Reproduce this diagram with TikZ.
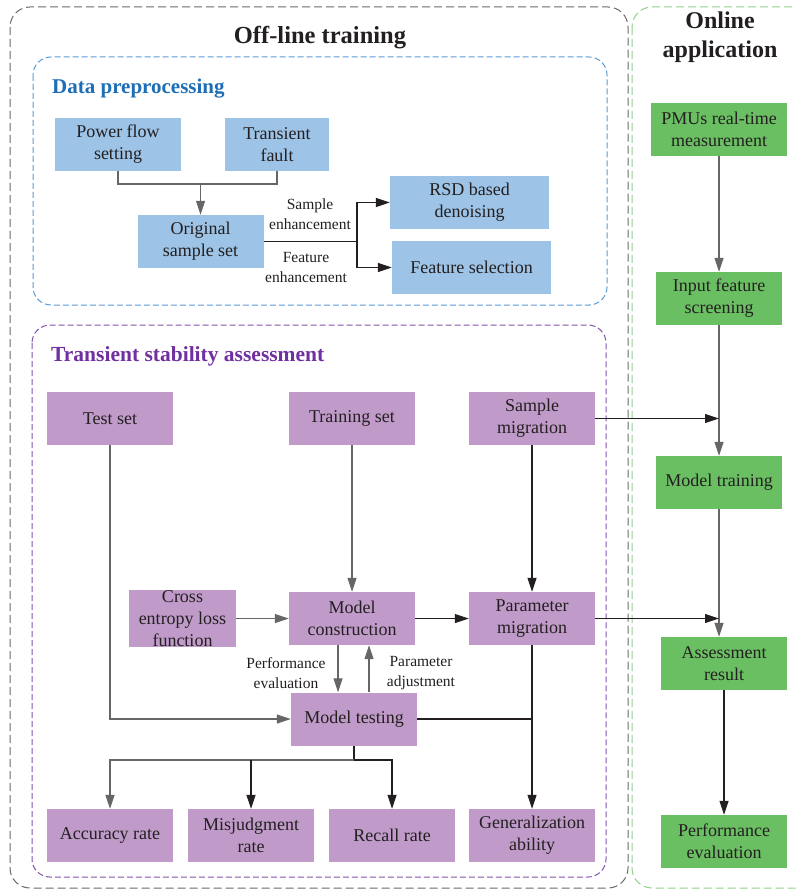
\documentclass[tikz,border=0pt]{standalone}
\usepackage{fontspec}
\setmainfont{Liberation Serif}
\usetikzlibrary{arrows.meta}
\definecolor{bfill}{HTML}{9DC3E6}
\definecolor{gfill}{HTML}{6BBF63}
\definecolor{pfill}{HTML}{C09BC9}
\definecolor{btitle}{HTML}{1F6EB5}
\definecolor{ptitle}{HTML}{7030A0}
\definecolor{bdash}{HTML}{5B9BD5}
\definecolor{pdash}{HTML}{8256AE}
\definecolor{gdash}{HTML}{8FD18A}
\definecolor{odash}{HTML}{6A6A6A}
\definecolor{txt}{HTML}{231F20}
\definecolor{lgray}{HTML}{666666}
\tikzset{
  box/.style={minimum width=126pt, minimum height=53pt, inner sep=0pt, align=center,
    text=txt, font=\fontsize{18}{22}\selectfont},
  bbox/.style={box, fill=bfill},
  gbox/.style={box, fill=gfill},
  pbox/.style={box, fill=pfill},
  lbl/.style={align=center, text=txt, font=\fontsize{15.5}{20}\selectfont},
  garr/.style={draw=lgray, line width=1.1pt, -{Triangle[length=14pt,width=9pt]}},
  karr/.style={draw=txt, line width=1.1pt, -{Triangle[length=14pt,width=9pt]}},
  gline/.style={draw=lgray, line width=1.1pt},
  kline/.style={draw=txt, line width=1.1pt},
}
\begin{document}
\begin{tikzpicture}[x=1pt,y=-1pt]
\clip (0,0) rectangle (796,890);
\fill[white] (0,0) rectangle (796,890);
% group frames
\draw[odash, line width=1pt, dash pattern=on 8pt off 4pt, rounded corners=20pt] (10,7) rectangle (628,888);
\draw[gdash, line width=1pt, dash pattern=on 8pt off 4pt, rounded corners=20pt] (632,7) rectangle (820,888);
\draw[bdash, line width=1pt, dash pattern=on 6pt off 3pt, rounded corners=18pt] (33,57) rectangle (607,305);
\draw[pdash, line width=1pt, dash pattern=on 6pt off 3pt, rounded corners=18pt] (32,325) rectangle (606,877);
% titles
\node[text=txt, font=\bfseries\fontsize{24.5}{29}\selectfont] (tOff) at (320,38) {Off-line training};
\node[text=txt, font=\bfseries\fontsize{24}{29}\selectfont, align=center] (tOn) at (720,37.5) {Online\\application};
\node[text=btitle, font=\bfseries\fontsize{21}{25}\selectfont, anchor=west, inner sep=0pt] (tDP) at (52,88.5) {Data preprocessing};
\node[text=ptitle, font=\bfseries\fontsize{21.5}{25}\selectfont, anchor=west, inner sep=0pt] (tTS) at (51,356) {Transient stability assessment};
% data preprocessing
\node[bbox] (pfs) at (118,144.5) {Power flow\\setting};
\node[bbox, minimum width=104pt] (tf) at (277,144.5) {Transient\\fault};
\node[bbox] (oss) at (200.5,241.5) {Original\\sample set};
\node[bbox, minimum width=159pt] (rsd) at (469.5,202.5) {RSD based\\denoising};
\node[bbox, minimum width=159pt] (fs) at (471.5,267.5) {Feature selection};
% online
\node[gbox, minimum width=136pt] (pmu) at (719,129.5) {PMUs real-time\\measurement};
\node[gbox] (ifs) at (719,298.5) {Input feature\\screening};
\node[gbox] (mt) at (719,482.5) {Model training};
\node[gbox] (ar) at (724,663.5) {Assessment\\result};
\node[gbox] (pe) at (724,841.5) {Performance\\evaluation};
% TSA
\node[pbox] (test) at (110,418.5) {Test set};
\node[pbox] (train) at (352,418.5) {Training set};
\node[pbox] (smig) at (532,418.5) {Sample\\migration};
\node[pbox, minimum width=107pt] (ce) at (182.5,618.5) {Cross\\entropy loss\\function};
\node[pbox] (mc) at (352,618.5) {Model\\construction};
\node[pbox] (pmig) at (532,618.5) {Parameter\\migration};
\node[pbox] (mtest) at (354,719) {Model testing};
\node[pbox] (acc) at (110,835.5) {Accuracy rate};
\node[pbox] (mis) at (251,835.5) {Misjudgment\\rate};
\node[pbox] (rec) at (392,835.5) {Recall rate};
\node[pbox] (gen) at (532,835.5) {Generalization\\ability};
% data preprocessing connectors
\coordinate (j1) at (200.5,184);
\draw[gline] (pfs.south) |- (j1) -| (tf.south);
\draw[garr] (j1) -- (oss.north);
\coordinate (j2) at (357,241.5);
\draw[kline] (oss.east) -- (j2);
\draw[karr] (j2) |- (rsd.west);
\draw[karr] (j2) |- (fs.west);
\node[lbl] (lSE) at (310,214) {Sample\\enhancement};
\node[lbl] (lFE) at (306,268) {Feature\\enhancement};
% online connectors
\draw[garr] (pmu.south) -- (ifs.north);
\draw[garr] (ifs.south) -- (mt.north);
\draw[garr] (mt.south) -- (mt.south |- ar.north);
\draw[karr] (ar.south) -- (pe.north);
\draw[karr] (smig.east) -- (smig.east -| mt.north);
\draw[karr] (pmig.east) -- (pmig.east -| mt.north);
% TSA connectors
\draw[garr] (test.south) |- (mtest.west);
\draw[garr] (train.south) -- (mc.north);
\draw[karr] (smig.south) -- (pmig.north);
\draw[garr] (ce.east) -- (mc.west);
\draw[karr] (mc.east) -- (pmig.west);
\draw[garr] ([xshift=-14pt]mc.south) -- ([xshift=-14pt]mc.south |- mtest.north);
\draw[garr] ([xshift=15pt]mtest.north) -- ([xshift=15pt]mtest.north |- mc.south);
\node[lbl] (lPE) at (286,673.5) {Performance\\evaluation};
\node[lbl] (lPA) at (421,673.5) {Parameter\\adjustment};
\coordinate (j3) at (532,719);
\draw[kline] (mtest.east) -- (j3);
\draw[karr] (pmig.south) -- (gen.north);
\coordinate (j4) at (354,760);
\draw[kline] (mtest.south) -- (j4);
\draw[gline] (j4) -| (mis.north |- j4);
\draw[garr] (mis.north |- j4) -| (acc.north);
\draw[karr] (j4) -| (rec.north);
\draw[karr] (mis.north |- j4) -- (mis.north);
\end{tikzpicture}
\end{document}
